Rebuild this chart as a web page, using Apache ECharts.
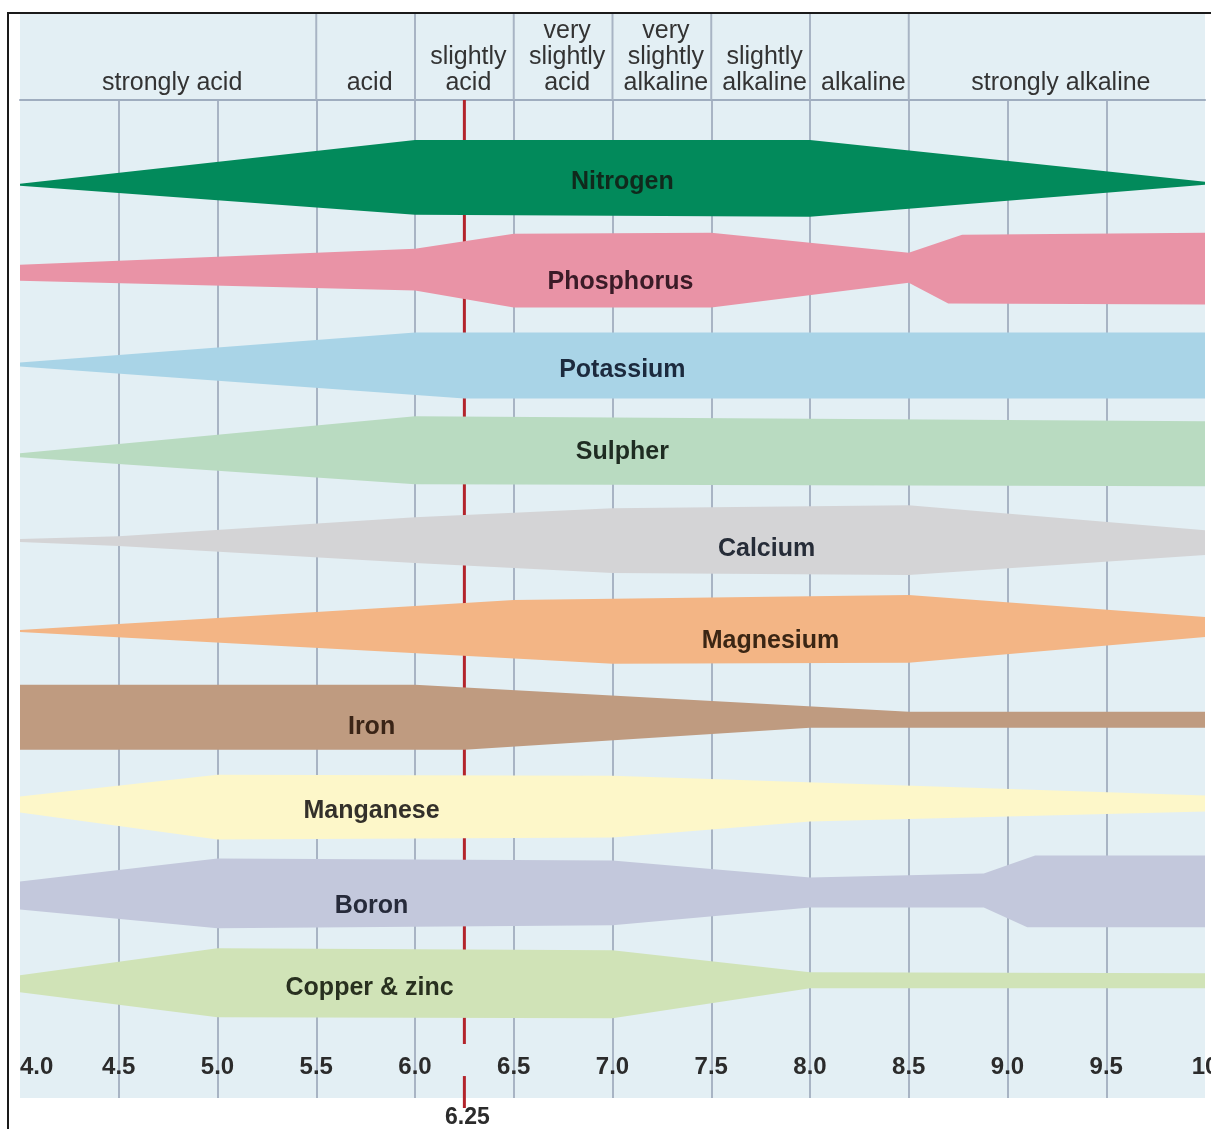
<!DOCTYPE html>
<html>
<head>
<meta charset="utf-8">
<script src="https://cdn.jsdelivr.net/npm/echarts@6/dist/echarts.min.js"></script>
<style>
html,body{margin:0;padding:0;background:#ffffff;}
#c{width:1211px;height:1129px;}
#frame{position:absolute;left:7px;top:12px;width:1204px;height:1117px;border-left:2px solid #1a1a1a;border-top:2px solid #1a1a1a;box-sizing:border-box;pointer-events:none;}
</style>
</head>
<body>
<div id="c"></div>
<div id="frame"></div>
<script>
// ---------- data ----------
const phMin = 4, phMax = 10, phStep = 0.5;
const xTickLabels = ['4.0','4.5','5.0','5.5','6.0','6.5','7.0','7.5','8.0','8.5','9.0','9.5','10'];

const zoneNames = ['strongly acid','acid','slightly\nacid','very\nslightly\nacid','very\nslightly\nalkaline','slightly\nalkaline','alkaline','strongly alkaline'];
const zoneStart = [4.0, 5.5, 6.0, 6.5, 7.0, 7.5, 8.0, 8.5];
const zoneEnd   = [5.5, 6.0, 6.5, 7.0, 7.5, 8.0, 8.5, 10.0];

const markerPH = 6.25;
const markerLabel = '6.25';

const nutrients = ['Nitrogen','Phosphorus','Potassium','Sulpher','Calcium','Magnesium','Iron','Manganese','Boron','Copper & zinc'];

// band edges: [pH, level] (level = position down the chart, 0..100)
const nitrogenUpper   = [[4.0,8.4],[6.0,4.0],[8.0,4.0],[10.0,8.2]];
const nitrogenLower   = [[4.0,8.6],[6.0,11.5],[8.0,11.7],[10.0,8.5]];
const phosphorusUpper = [[4.0,16.5],[6.0,14.9],[6.5,13.4],[7.5,13.3],[8.5,15.3],[8.77,13.5],[10.0,13.3]];
const phosphorusLower = [[4.0,18.1],[6.0,19.1],[6.5,20.8],[7.5,20.8],[8.5,18.3],[8.7,20.4],[10.0,20.5]];
const potassiumUpper  = [[4.0,26.3],[6.0,23.3],[10.0,23.3]];
const potassiumLower  = [[4.0,26.7],[6.25,29.9],[10.0,29.9]];
const sulpherUpper    = [[4.0,35.4],[6.0,31.7],[10.0,32.2]];
const sulpherLower    = [[4.0,35.8],[6.0,38.5],[10.0,38.7]];
const calciumUpper    = [[4.0,44.0],[4.5,43.7],[6.0,41.8],[7.0,40.9],[8.5,40.6],[10.0,43.1]];
const calciumLower    = [[4.0,44.3],[4.5,44.7],[6.0,46.4],[7.0,47.4],[8.5,47.6],[10.0,45.6]];
const magnesiumUpper  = [[4.0,53.1],[6.5,50.1],[8.5,49.6],[10.0,51.8]];
const magnesiumLower  = [[4.0,53.3],[7.0,56.5],[8.5,56.4],[10.0,53.8]];
const ironUpper       = [[4.0,58.6],[6.0,58.6],[8.5,61.3],[10.0,61.3]];
const ironLower       = [[4.0,65.1],[6.25,65.1],[8.0,62.9],[10.0,62.9]];
const manganeseUpper  = [[4.0,69.8],[5.0,67.6],[7.0,67.7],[10.0,69.7]];
const manganeseLower  = [[4.0,71.4],[5.0,74.1],[7.0,73.9],[8.0,72.3],[10.0,71.3]];
const boronUpper      = [[4.0,78.3],[5.0,76.0],[7.0,76.2],[8.0,77.9],[8.88,77.5],[9.14,75.7],[10.0,75.7]];
const boronLower      = [[4.0,81.1],[5.0,83.0],[7.0,82.7],[8.0,80.9],[8.88,80.9],[9.1,82.9],[10.0,82.9]];
const copperUpper     = [[4.0,87.7],[5.0,85.0],[7.0,85.2],[8.0,87.4],[10.0,87.5]];
const copperLower     = [[4.0,89.4],[5.0,91.9],[7.0,92.0],[8.0,89.0],[10.0,89.0]];

const upperEdges = [nitrogenUpper, phosphorusUpper, potassiumUpper, sulpherUpper, calciumUpper, magnesiumUpper, ironUpper, manganeseUpper, boronUpper, copperUpper];
const lowerEdges = [nitrogenLower, phosphorusLower, potassiumLower, sulpherLower, calciumLower, magnesiumLower, ironLower, manganeseLower, boronLower, copperLower];

const labelPH    = [7.05, 7.04, 7.05, 7.05, 7.78, 7.8, 5.78, 5.78, 5.78, 5.77];
const labelLevel = [8.2, 18.2, 27.1, 35.3, 45.0, 54.2, 62.8, 71.3, 80.8, 89.0];

// ---------- styles ----------
const fillColors  = ['#028a5b','#e993a6','#a9d4e7','#b9dbc1','#d4d4d6','#f3b585','#bf9b80','#fdf7c9','#c3c8dc','#d0e3b7'];
const labelColors = ['#10291c','#3a1b27','#1c2a3e','#1f2c22','#262c38','#3b2614','#3a2416','#33302a','#262a3a','#28301f'];
const FONT = '"Liberation Sans", Arial, sans-serif';
const gridColor = '#a8b4c4';
const bgColor = '#e3eff4';

const chart = echarts.init(document.getElementById('c'), null, {renderer: 'canvas'});

const option = {
  animation: false,
  backgroundColor: '#ffffff',
  textStyle: {fontFamily: FONT},
  grid: [
    {left: 20, right: 6, top: 14, height: 86, show: true, backgroundColor: bgColor, borderWidth: 0, outerBoundsMode: 'none', containLabel: false},
    {left: 20, right: 6, top: 100, bottom: 31, show: true, backgroundColor: bgColor, borderWidth: 0, outerBoundsMode: 'none', containLabel: false}
  ],
  xAxis: [
    {gridIndex: 0, type: 'value', min: phMin, max: phMax, interval: phStep, position: 'bottom',
     axisLine: {show: true, lineStyle: {color: '#9fadbf', width: 2}},
     axisTick: {show: false}, axisLabel: {show: false}, splitLine: {show: false}},
    {gridIndex: 1, type: 'value', min: phMin, max: phMax, interval: phStep, position: 'bottom',
     axisLine: {show: false}, axisTick: {show: false},
     splitLine: {show: true, showMinLine: false, showMaxLine: false, lineStyle: {color: gridColor, width: 2}},
     axisLabel: {
       inside: true, margin: 19, color: '#2b2b2b', fontWeight: 'bold', fontSize: 24, fontFamily: FONT,
       alignMinLabel: 'left', alignMaxLabel: 'center',
       formatter: function (v) { const k = Math.round((v - phMin) / phStep); return xTickLabels[k] || ''; }
     }}
  ],
  yAxis: [
    {gridIndex: 0, type: 'value', min: 0, max: 1, show: false},
    {gridIndex: 1, type: 'value', min: 0, max: 100, inverse: true, show: false}
  ],
  series: [
    // header dividers
    {
      type: 'custom', xAxisIndex: 0, yAxisIndex: 0, z: 3, silent: true,
      data: zoneStart.slice(1).map(b => [b, 0]),
      renderItem: function (params, api) {
        const b = api.value(0);
        const p0 = api.coord([b, 0]);
        const p1 = api.coord([b, 1]);
        return {type: 'line', shape: {x1: p0[0], y1: p0[1], x2: p1[0], y2: p1[1]},
                style: {stroke: gridColor, lineWidth: 2}};
      }
    },
    // header zone labels
    {
      type: 'custom', xAxisIndex: 0, yAxisIndex: 0, z: 4, silent: true,
      data: zoneNames.map((z, i) => [(zoneStart[i] + zoneEnd[i]) / 2, 0.04]),
      renderItem: function (params, api) {
        const i = params.dataIndex;
        const p = api.coord([api.value(0), api.value(1)]);
        return {type: 'text', x: p[0] + 4, y: p[1],
                style: {text: zoneNames[i], fill: '#333333', font: '25px ' + FONT,
                        align: 'center', verticalAlign: 'bottom', lineHeight: 26}};
      }
    },
    // pH 6.25 marker line (behind bands)
    {
      type: 'custom', xAxisIndex: 1, yAxisIndex: 1, z: 2, silent: true, clip: false,
      data: [[markerPH, 0]],
      renderItem: function (params, api) {
        const x = api.value(0);
        const a0 = api.coord([x, 0]), a1 = api.coord([x, 94.6]);
        const b0 = api.coord([x, 97.8]), b1 = api.coord([x, 101.0]);
        const t = api.coord([x, 102.0]);
        const ls = {stroke: '#b3242b', lineWidth: 3};
        return {type: 'group', children: [
          {type: 'line', shape: {x1: a0[0], y1: a0[1], x2: a1[0], y2: a1[1]}, style: ls},
          {type: 'line', shape: {x1: b0[0], y1: b0[1], x2: b1[0], y2: b1[1]}, style: ls},
          {type: 'text', x: t[0] + 3, y: t[1], style: {text: markerLabel, fill: '#2b2b2b', font: 'bold 23px ' + FONT, align: 'center', verticalAlign: 'middle'}}
        ]};
      }
    },
    // nutrient availability bands
    {
      type: 'custom', xAxisIndex: 1, yAxisIndex: 1, z: 5, silent: true,
      data: nutrients.map((n, i) => [labelPH[i], labelLevel[i]]),
      renderItem: function (params, api) {
        const i = params.dataIndex;
        const up = upperEdges[i].map(p => api.coord(p));
        const lo = lowerEdges[i].map(p => api.coord(p)).reverse();
        const lp = api.coord([api.value(0), api.value(1)]);
        return {type: 'group', children: [
          {type: 'polygon', shape: {points: up.concat(lo)}, style: {fill: fillColors[i]}},
          {type: 'text', x: lp[0], y: lp[1], z2: 10,
           style: {text: nutrients[i], fill: labelColors[i], font: 'bold 25px ' + FONT, align: 'center', verticalAlign: 'middle'}}
        ]};
      }
    }
  ]
};
chart.setOption(option);
</script>
</body>
</html>
